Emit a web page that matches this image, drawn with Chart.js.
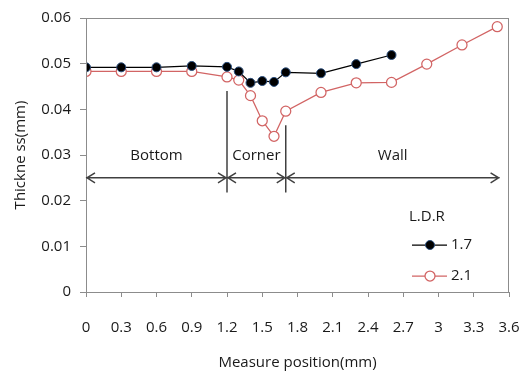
<!DOCTYPE html>
<html>
<head>
<meta charset="utf-8">
<script src="https://cdn.jsdelivr.net/npm/chart.js@4.4.1/dist/chart.umd.min.js"></script>
<style>
  html, body { margin: 0; padding: 0; background: #fff; }
  #wrap { width: 521px; height: 376px; }
</style>
</head>
<body>
<div id="wrap"><canvas id="lineChart" width="521" height="376"></canvas></div>
<script>
// measure positions (mm)
const positions = [0, 0.3, 0.6, 0.9, 1.2, 1.3, 1.4, 1.5, 1.6, 1.7, 2.0, 2.3, 2.6, 2.9, 3.2, 3.5];
// thickness (mm) per L.D.R
const ldr17 = [0.0492, 0.0492, 0.0492, 0.0495, 0.0493, 0.0483, 0.0458, 0.0462, 0.0460, 0.0481, 0.0479, 0.0499, 0.0519];
const ldr21 = [0.0483, 0.0483, 0.0483, 0.0483, 0.0471, 0.0464, 0.0430, 0.0375, 0.0341, 0.0396, 0.0437, 0.0458, 0.0459, 0.0499, 0.0541, 0.0581];
const seriesNames = ["1.7", "2.1"];

// region annotation
const regionNames = ["Bottom", "Corner", "Wall"];
const regionBounds = [0, 1.2, 1.7, 3.52];
const dividerTops = [0.0440, 0.0365];
const dividerBottom = 0.0218;
const arrowLevel = 0.0250;
const regionLabelLevel = 0.0298;

const FONT = "'Open Sans', sans-serif";
const TEXT = "#1a1a1a";

function toPoints(ys) {
    return ys.map((y, i) => ({ x: positions[i], y: y }));
}

const overlay = {
    id: "overlay",
    afterDatasetsDraw(chart) {
        const ctx = chart.ctx;
        const a = chart.chartArea;
        const xs = chart.scales.x, ys = chart.scales.y;
        ctx.save();

        // plot box
        ctx.strokeStyle = "#8c8c8c";
        ctx.lineWidth = 1;
        ctx.strokeRect(a.left + 0.5, a.top + 0.5, a.right - a.left - 1, a.bottom - a.top);

        // region dividers and arrows
        ctx.strokeStyle = "#404040";
        ctx.lineWidth = 1.5;
        const ay = ys.getPixelForValue(arrowLevel);
        dividerTops.forEach((top, i) => {
            const px = xs.getPixelForValue(regionBounds[i + 1]);
            ctx.beginPath();
            ctx.moveTo(px, ys.getPixelForValue(top));
            ctx.lineTo(px, ys.getPixelForValue(dividerBottom));
            ctx.stroke();
        });
        for (let i = 0; i < regionNames.length; i++) {
            const x0 = xs.getPixelForValue(regionBounds[i]);
            const x1 = xs.getPixelForValue(regionBounds[i + 1]);
            ctx.beginPath();
            ctx.moveTo(x0, ay);
            ctx.lineTo(x1, ay);
            ctx.moveTo(x0 + 9, ay - 5);
            ctx.lineTo(x0 + 1, ay);
            ctx.lineTo(x0 + 9, ay + 5);
            ctx.moveTo(x1 - 9, ay - 5);
            ctx.lineTo(x1 - 1, ay);
            ctx.lineTo(x1 - 9, ay + 5);
            ctx.stroke();

            ctx.fillStyle = TEXT;
            ctx.font = "15px " + FONT;
            ctx.textAlign = "center";
            ctx.textBaseline = "middle";
            ctx.fillText(regionNames[i], (x0 + x1) / 2, ys.getPixelForValue(regionLabelLevel));
        }

        // legend
        const lx = a.right - 97, ly = a.top + 199;
        ctx.textAlign = "left";
        ctx.fillText("L.D.R", lx - 3, ly);
        chart.data.datasets.forEach((ds, i) => {
            const y = ly + 28 + i * 31;
            ctx.strokeStyle = ds.borderColor;
            ctx.lineWidth = ds.borderWidth;
            ctx.beginPath();
            ctx.moveTo(lx, y);
            ctx.lineTo(lx + 35, y);
            ctx.stroke();
            ctx.beginPath();
            ctx.arc(lx + 18, y, ds.pointRadius, 0, Math.PI * 2);
            ctx.fillStyle = ds.pointBackgroundColor;
            ctx.fill();
            ctx.strokeStyle = ds.pointBorderColor;
            ctx.lineWidth = ds.pointBorderWidth;
            ctx.stroke();
            ctx.fillStyle = TEXT;
            ctx.fillText(seriesNames[i], lx + 39, y);
        });
        ctx.restore();
    }
};

const ctx = document.getElementById("lineChart").getContext("2d");

new Chart(ctx, {
    type: "line",
    data: {
        datasets: [
            {
                label: seriesNames[0],
                data: toPoints(ldr17),
                borderColor: "#000000",
                borderWidth: 1.25,
                pointRadius: 4.5,
                pointBackgroundColor: "#000000",
                pointBorderColor: "#2b4f7e",
                pointBorderWidth: 1,
                tension: 0
            },
            {
                label: seriesNames[1],
                data: toPoints(ldr21),
                borderColor: "#d26464",
                borderWidth: 1.25,
                pointRadius: 5,
                pointBackgroundColor: "#ffffff",
                pointBorderColor: "#d26464",
                pointBorderWidth: 1.25,
                tension: 0
            }
        ]
    },
    options: {
        responsive: false,
        animation: false,
        layout: { padding: { left: 8, top: 14, right: 12, bottom: 0 } },
        plugins: {
            legend: { display: false },
            tooltip: { enabled: false }
        },
        scales: {
            x: {
                type: "linear",
                min: 0,
                max: 3.6,
                ticks: {
                    stepSize: 0.3,
                    padding: 22,
                    color: TEXT,
                    font: { family: FONT, size: 15 },
                    maxRotation: 0,
                    callback: v => String(Math.round(v * 10) / 10)
                },
                grid: { drawOnChartArea: false, tickLength: 5, color: "#8c8c8c" },
                border: { color: "#8c8c8c" },
                title: {
                    display: true,
                    text: "Measure position(mm)",
                    color: TEXT,
                    font: { family: FONT, size: 15 },
                    padding: { top: 17 }
                },
                afterFit: s => { s.height = 84; s.paddingRight = 0; s.paddingLeft = 0; }
            },
            y: {
                min: 0,
                max: 0.06,
                ticks: {
                    stepSize: 0.01,
                    padding: 9,
                    color: TEXT,
                    font: { family: FONT, size: 15 },
                    callback: v => v === 0 ? "0" : v.toFixed(2)
                },
                grid: { drawOnChartArea: false, tickLength: 6, color: "#8c8c8c" },
                border: { color: "#8c8c8c" },
                title: {
                    display: true,
                    text: "Thickne ss(mm)",
                    color: TEXT,
                    font: { family: FONT, size: 15 },
                    padding: { bottom: 4 }
                },
                afterFit: s => { s.width = 78; }
            }
        }
    },
    plugins: [overlay]
});
</script>
</body>
</html>
